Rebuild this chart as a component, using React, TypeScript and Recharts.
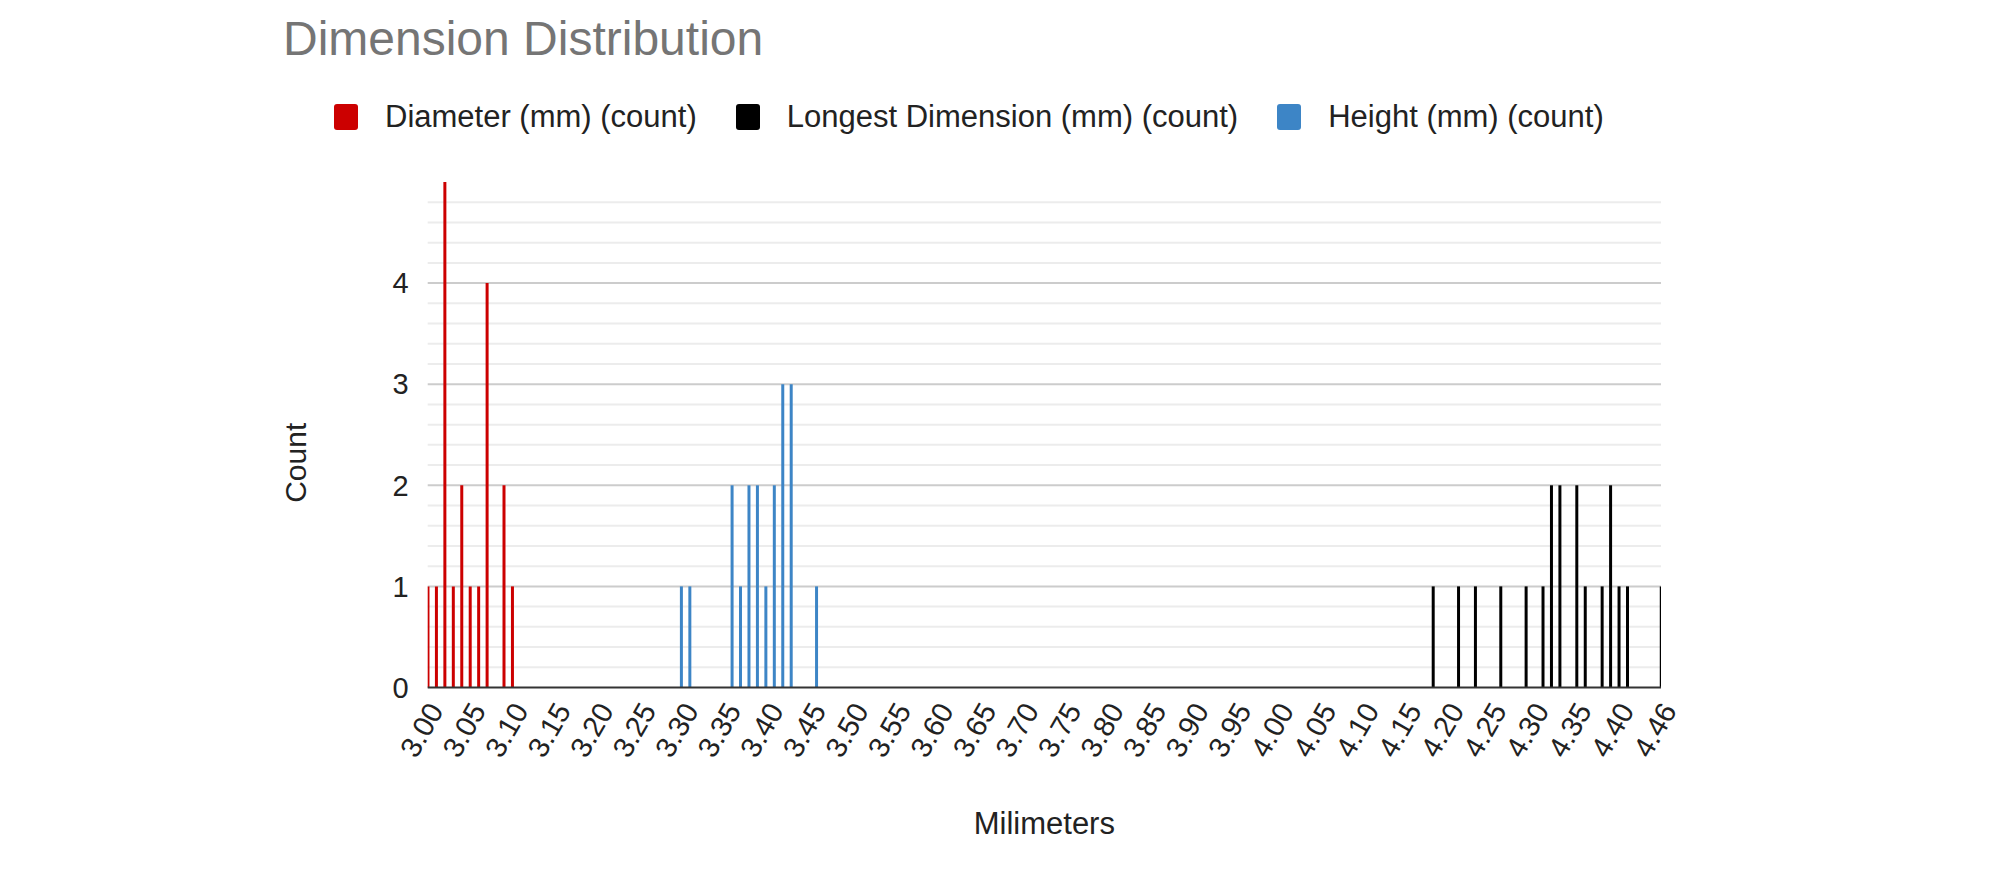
import { Bar, BarChart, CartesianGrid, XAxis, YAxis } from 'recharts';

const diameterMm = [3.0, 3.01, 3.02, 3.03, 3.04, 3.05, 3.06, 3.07, 3.09, 3.1];
const diameterCount = [1, 1, 5, 1, 2, 1, 1, 4, 2, 1];

const longestMm = [4.19, 4.22, 4.24, 4.27, 4.3, 4.32, 4.33, 4.34, 4.36, 4.37, 4.39, 4.4, 4.41, 4.42, 4.46];
const longestCount = [1, 1, 1, 1, 1, 1, 2, 2, 2, 1, 1, 2, 1, 1, 1];

const heightMm = [3.3, 3.31, 3.36, 3.37, 3.38, 3.39, 3.4, 3.41, 3.42, 3.43, 3.46];
const heightCount = [1, 1, 2, 1, 2, 2, 1, 2, 3, 3, 1];

const xTickLabels = [
    '3.00', '3.05', '3.10', '3.15', '3.20', '3.25', '3.30', '3.35', '3.40', '3.45',
    '3.50', '3.55', '3.60', '3.65', '3.70', '3.75', '3.80', '3.85', '3.90', '3.95',
    '4.00', '4.05', '4.10', '4.15', '4.20', '4.25', '4.30', '4.35', '4.40', '4.46',
];
const xMin = 3.0;
const xMax = 4.46;

const yTicks = [0, 1, 2, 3, 4];
const yMajorLines = [1, 2, 3, 4];
const yMinorLines = [0.2, 0.4, 0.6, 0.8, 1.2, 1.4, 1.6, 1.8, 2.2, 2.4, 2.6, 2.8, 3.2, 3.4, 3.6, 3.8, 4.2, 4.4, 4.6, 4.8];

const FONT = 'Arial, "Liberation Sans", sans-serif';
const TEXT = '#222222';

const series = [
    { key: 'diameter', name: 'Diameter (mm) (count)', color: '#cc0000', mm: diameterMm, count: diameterCount },
    { key: 'longest', name: 'Longest Dimension (mm) (count)', color: '#000000', mm: longestMm, count: longestCount },
    { key: 'height', name: 'Height (mm) (count)', color: '#3d85c6', mm: heightMm, count: heightCount },
];

// Sheets spreads its labels evenly from min to max, so ticks follow the label index.
const xTicks = xTickLabels.map((_, i) => xMin + ((xMax - xMin) * i) / (xTickLabels.length - 1));

const rows = series
    .flatMap((s) => s.mm.map((mm, i) => ({ mm, [s.key]: s.count[i] })))
    .sort((a, b) => a.mm - b.mm);

function SlantTick({ x, y, index }: any) {
    const ax = x + 8;
    const ay = y + 10;
    return (
        <text
            x={ax}
            y={ay}
            transform={`rotate(-60 ${ax} ${ay})`}
            textAnchor="end"
            dominantBaseline="central"
            fontSize={29}
            fontFamily={FONT}
            fill={TEXT}
        >
            {xTickLabels[index]}
        </text>
    );
}

function CountLabel({ viewBox }: any) {
    const cx = viewBox.x + viewBox.width / 2;
    const cy = viewBox.y + viewBox.height / 2 + 28;
    return (
        <text
            x={cx}
            y={cy}
            transform={`rotate(-90 ${cx} ${cy})`}
            textAnchor="middle"
            dominantBaseline="central"
            fontSize={30}
            fontFamily={FONT}
            fill={TEXT}
        >
            Count
        </text>
    );
}

function LegendRow() {
    return (
        <div style={{ position: 'absolute', left: 326, top: 93, display: 'flex', alignItems: 'center', fontSize: 31, color: TEXT, lineHeight: '31px' }}>
            {series.map((s) => (
                <div key={s.key} style={{ display: 'flex', alignItems: 'center', marginRight: 39 }}>
                    <span style={{ width: 24, height: 26, background: s.color, borderRadius: 3, marginRight: 27, display: 'inline-block' }} />
                    <span style={{ whiteSpace: 'nowrap' }}>{s.name}</span>
                </div>
            ))}
        </div>
    );
}

export default function App() {
    return (
        <div style={{ position: 'relative', width: 2000, height: 864, background: '#ffffff', fontFamily: FONT }}>
            <div style={{ position: 'absolute', left: 275, top: 7, fontSize: 48, lineHeight: '48px', color: '#757575', whiteSpace: 'nowrap' }}>
                Dimension Distribution
            </div>
            <LegendRow />
            <div style={{ position: 'absolute', left: 0, top: 0 }}>
                <BarChart width={2000} height={864} data={rows} margin={{ top: 174, right: 347, bottom: 34.5, left: 155.7 }}>
                    <CartesianGrid vertical={false} horizontalValues={yMinorLines} stroke="#ececec" strokeWidth={2} />
                    <CartesianGrid vertical={false} horizontalValues={yMajorLines} stroke="#cccccc" strokeWidth={2} />
                    <XAxis
                        dataKey="mm"
                        type="number"
                        domain={[xMin, xMax]}
                        allowDataOverflow
                        ticks={xTicks}
                        interval={0}
                        tick={<SlantTick />}
                        tickLine={false}
                        axisLine={{ stroke: '#333333', strokeWidth: 2 }}
                        height={150}
                        label={{ value: 'Milimeters', position: 'insideBottom', offset: 3.5, fontSize: 31, fill: TEXT, fontFamily: FONT }}
                    />
                    <YAxis
                        type="number"
                        domain={[0, 5]}
                        ticks={yTicks}
                        interval={0}
                        width={264}
                        tickLine={false}
                        axisLine={false}
                        tickMargin={13}
                        tick={{ fontSize: 29, fill: TEXT, fontFamily: FONT }}
                        label={<CountLabel />}
                    />
                    {series.map((s) => (
                        <Bar key={s.key} dataKey={s.key} name={s.name} stackId="all" fill={s.color} barSize={3} isAnimationActive={false} />
                    ))}
                </BarChart>
            </div>
        </div>
    );
}
